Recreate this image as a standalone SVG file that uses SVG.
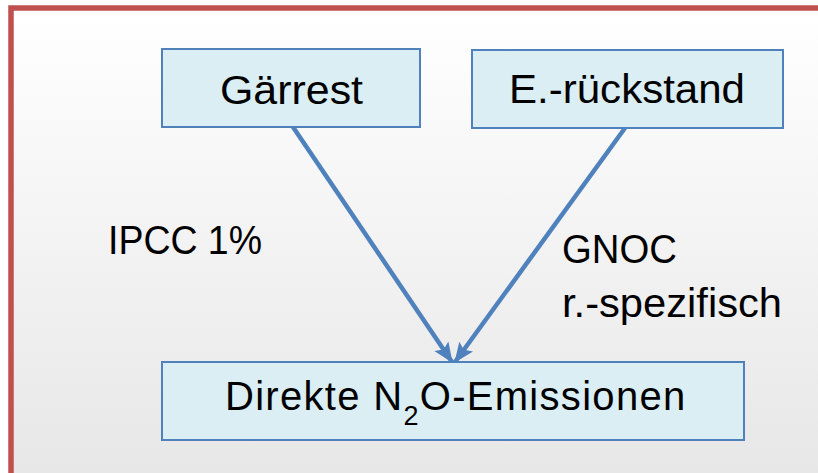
<svg xmlns="http://www.w3.org/2000/svg" width="818" height="473" viewBox="0 0 818 473">
<defs>
<linearGradient id="bg" x1="0" y1="0" x2="0" y2="1">
<stop offset="0" stop-color="#FFFFFF"/>
<stop offset="1" stop-color="#E6E6E6"/>
</linearGradient>
<marker id="ah" markerUnits="userSpaceOnUse" markerWidth="20" markerHeight="20" viewBox="0 0 20 20" refX="19" refY="10" orient="auto">
<path d="M0,1.5 L20,10 L0,18.5 L4,10 Z" fill="#4F81BD"/>
</marker>
<style>
.box{fill:#DAEEF3;stroke:#4F81BD;stroke-width:2}
.t{font-family:"Liberation Sans",Arial,sans-serif;font-size:40px;fill:#000}
.c{stroke:#4F81BD;stroke-width:4.5;fill:none;marker-end:url(#ah)}
</style>
</defs>
<rect x="11" y="8" width="830" height="480" fill="url(#bg)" stroke="#C0504D" stroke-width="5.5"/>
<g id="connectors">
<line class="c" x1="293" y1="127" x2="452" y2="362"/>
<line class="c" x1="625" y1="128" x2="455" y2="362"/>
</g>
<g id="gaerrest">
<rect class="box" x="162" y="49" width="258" height="78"/>
<text class="t" x="220" y="104" textLength="143" lengthAdjust="spacingAndGlyphs">Gärrest</text>
</g>
<g id="erueckstand">
<rect class="box" x="472" y="50" width="311" height="78"/>
<text class="t" x="509" y="103" textLength="236" lengthAdjust="spacingAndGlyphs">E.-rückstand</text>
</g>
<g id="emissionen">
<rect class="box" x="162" y="362" width="582" height="78"/>
<text class="t" x="225" y="410" font-size="41" letter-spacing="1.3">Direkte N<tspan font-size="27" dy="15">2</tspan><tspan dy="-15">O-Emissionen</tspan></text>
</g>
<g id="labels">
<text class="t" x="108" y="254" textLength="154" lengthAdjust="spacingAndGlyphs">IPCC 1%</text>
<text class="t" x="562" y="263" textLength="115" lengthAdjust="spacingAndGlyphs">GNOC</text>
<text class="t" x="562" y="317" textLength="220" lengthAdjust="spacingAndGlyphs">r.-spezifisch</text>
</g>
</svg>
